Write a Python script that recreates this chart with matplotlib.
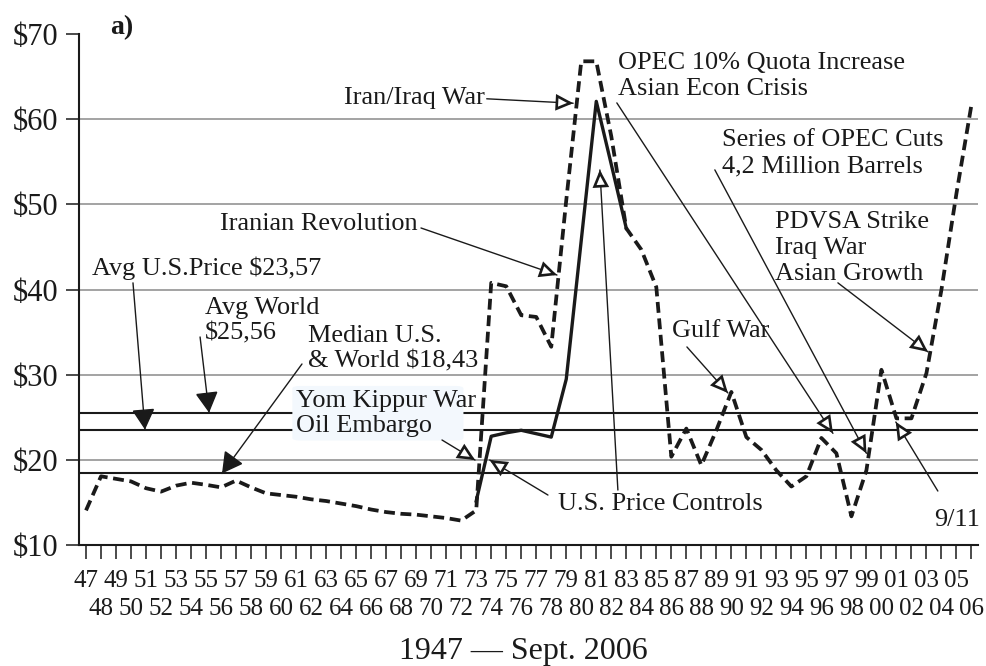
import numpy as np
import matplotlib.pyplot as plt
from matplotlib.patches import FancyBboxPatch

plt.rcParams['font.family'] = ['Liberation Serif', 'DejaVu Serif']

# oil price, 1947 - 2006
years = list(range(1947, 2007))
world_price = [14.1, 18.1, 17.8, 17.5, 16.7, 16.3, 17.0, 17.35, 17.1, 16.8,
               17.6, 16.8, 16.1, 15.9, 15.7, 15.4, 15.2, 14.9, 14.6, 14.2,
               13.9, 13.7, 13.6, 13.4, 13.2, 12.9, 14.1, 40.8, 40.4, 37.0,
               36.8, 33.3, 50.5, 66.8, 66.8, 58.0, 47.2, 44.7, 40.3, 20.4,
               23.7, 19.4, 23.5, 28.0, 22.7, 21.2, 18.8, 16.9, 18.1, 22.6,
               20.8, 13.4, 18.8, 30.6, 24.9, 24.9, 30.2, 40.0, 51.3, 61.7]
us_years = list(range(1973, 1984))
us_price = [15.2, 22.8, 23.2, 23.5, 23.1, 22.7, 29.5, 45.8, 62.1, 54.7, 47.2]

grid_levels = [20, 30, 40, 50, 60]
avg_us = 23.57
avg_world = 25.56
median_all = 18.43

ink = '#1a1a1a'

fig = plt.figure(figsize=(9.87, 6.66), dpi=100)
ax = fig.add_axes([0.0800, 0.1812, 0.9108, 0.7677])

for lv in grid_levels:
    ax.axhline(lv, color='#8a8a8a', lw=1.1, zorder=1)
for lv in [avg_us, avg_world, median_all]:
    ax.axhline(lv, color=ink, lw=1.5, zorder=2)

ax.plot(years, world_price, color=ink, lw=2.7, dashes=(2.9, 1.5), zorder=4)
ax.plot(us_years, us_price, color=ink, lw=2.4, zorder=4)

ax.set_xlim(1946.53, 2006.43)
ax.set_ylim(10, 70)

# box behind the Yom Kippur note
ax.add_patch(FancyBboxPatch((1960.75, 22.3), 11.4, 6.4,
                            boxstyle='round,pad=0,rounding_size=0.5',
                            fc='#f3f8fd', ec='none', zorder=3,
                            mutation_aspect=0.6))

# axes
yt = list(range(10, 71, 10))
ax.set_yticks(yt)
ax.set_yticklabels(['\\$%d' % v for v in yt])
ax.set_xticks(years[::2])
ax.set_xticklabels([str(y)[2:] for y in years[::2]])
ax.set_xticks(years[1::2], minor=True)
ax.set_xticklabels([str(y)[2:] for y in years[1::2]], minor=True)
ax.tick_params(axis='y', length=9.4, width=1.1, pad=5.5, labelsize=22,
               colors=ink)
ax.tick_params(axis='x', which='both', length=10, width=1.1, labelsize=18,
               colors=ink)
ax.tick_params(axis='x', which='major', pad=8)
ax.tick_params(axis='x', which='minor', pad=28)
for s in ['top', 'right']:
    ax.spines[s].set_visible(False)
for s in ['left', 'bottom']:
    ax.spines[s].set_linewidth(1.5)
    ax.spines[s].set_color(ink)


def pointer(start, tip, filled=False):
    ax.annotate('', xy=tip, xytext=start, zorder=5,
                arrowprops=dict(arrowstyle='-', lw=1.0, color=ink,
                                shrinkA=0, shrinkB=0))
    p0 = ax.transData.transform(start)
    p1 = ax.transData.transform(tip)
    d = (p1 - p0) / np.hypot(*(p1 - p0))
    if filled:
        L = 19
        style = '-|>,head_length=1.3,head_width=0.72'
        fc, lw = ink, 1.0
    else:
        L = 15
        style = '-|>,head_length=0.95,head_width=0.45'
        fc, lw = 'white', 1.9
    s = ax.transData.inverted().transform(p1 - d * L)
    ax.annotate('', xy=tip, xytext=s, zorder=6,
                arrowprops=dict(arrowstyle=style, lw=lw, fc=fc, ec=ink,
                                shrinkA=0, shrinkB=0, mutation_scale=10,
                                joinstyle='miter'))


def note(x, y, s, ha='left'):
    ax.text(x, y, s, fontsize=18.9, color=ink, ha=ha, va='center',
            linespacing=1.22, zorder=7)


note(1973.58, 62.5, 'Iran/Iraq War', ha='right')
pointer((1973.7, 62.4), (1979.46, 61.88))

note(1982.44, 65.1, 'OPEC 10% Quota Increase\nAsian Econ Crisis')
pointer((1982.37, 61.92), (1996.77, 23.14))

note(1989.37, 56.0, 'Series of OPEC Cuts\n4,2 Million Barrels')
pointer((1988.9, 54.06), (1999.0, 20.8))

note(1992.9, 44.9, 'PDVSA Strike\nIraq War\nAsian Growth')
pointer((1997.1, 40.8), (2003.1, 32.7))

note(1969.12, 47.7, 'Iranian Revolution', ha='right')
pointer((1969.32, 47.24), (1978.38, 41.72))

note(1947.4, 42.55, 'Avg U.S.Price \\$23,57')
pointer((1950.13, 40.8), (1950.93, avg_us), filled=True)

note(1954.93, 36.33, 'Avg World\n\\$25,56')
pointer((1954.6, 34.45), (1955.2, avg_world), filled=True)

note(1961.79, 33.04, 'Median U.S.\n& World \\$18,43')
pointer((1961.39, 31.28), (1956.06, median_all), filled=True)

note(1960.99, 25.47, 'Yom Kippur War\nOil Embargo')
pointer((1970.72, 22.36), (1972.92, 20.01))

note(1978.45, 14.85, 'U.S. Price Controls')
pointer((1977.78, 15.9), (1973.9, 20.01))
pointer((1982.44, 16.49), (1981.24, 54.05))

note(1986.04, 35.17, 'Gulf War')
pointer((1987.04, 33.28), (1989.77, 27.88))

note(2006.56, 12.97, '9/11', ha='right')
pointer((2003.76, 16.37), (2000.96, 24.47))

fig.text(110 / 987, 1 - 28 / 666, 'a)', fontsize=20, fontweight='bold',
         color=ink, va='center')
fig.text(523 / 987, 1 - 651 / 666, '1947 \u2014 Sept. 2006', fontsize=23,
         color=ink, ha='center', va='center')

fig.savefig('out.png', dpi=100)
